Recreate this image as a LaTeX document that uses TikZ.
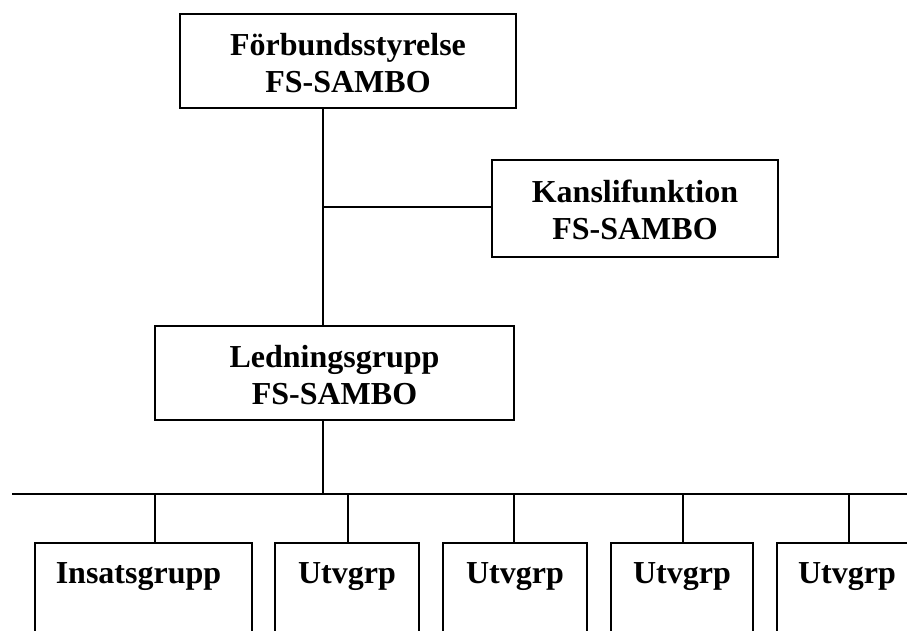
\documentclass[tikz,border=0pt]{standalone}
\usepackage{fontspec}
\setmainfont{Liberation Serif}
\usetikzlibrary{calc}
\begin{document}
\begin{tikzpicture}[x=1pt,y=-1pt,
  box/.style={draw, line width=2pt, rectangle, inner sep=0pt, outer sep=0pt, anchor=north west},
  lbl/.style={anchor=base, inner sep=0pt, font=\fontsize{32}{37}\selectfont\bfseries},
  conn/.style={line width=2pt}]
\useasboundingbox (0,0) rectangle (907,630);
\clip (0,0) rectangle (907,630);
% upper boxes
\node[box, minimum width=336, minimum height=94] (fs) at (180,14) {};
\node[lbl] (fs1) at ($(fs.north)+(0,41)$) {Förbundsstyrelse};
\node[lbl] (fs2) at ($(fs.north)+(0,78)$) {FS-SAMBO};
\node[box, minimum width=286, minimum height=97] (kf) at (492,160) {};
\node[lbl] (kf1) at ($(kf.north)+(0,42)$) {Kanslifunktion};
\node[lbl] (kf2) at ($(kf.north)+(0,79)$) {FS-SAMBO};
\node[box, minimum width=359, minimum height=94] (lg) at (155,326) {};
\node[lbl] (lg1) at ($(lg.north)+(0,41)$) {Ledningsgrupp};
\node[lbl] (lg2) at ($(lg.north)+(0,78)$) {FS-SAMBO};
% lower boxes
\node[box, minimum width=217, minimum height=130] (ins) at (35,543) {};
\node[box, minimum width=144, minimum height=130] (u1) at (275,543) {};
\node[box, minimum width=144, minimum height=130] (u2) at (443,543) {};
\node[box, minimum width=142, minimum height=130] (u3) at (611,543) {};
\node[box, minimum width=180, minimum height=130] (u4) at (777,543) {};
\node[lbl] (insT) at ($(ins.north)+(-5,40)$) {Insatsgrupp};
\foreach \n in {u1,u2,u3}{
  \node[lbl] (\n T) at ($(\n.north)+(0,40)$) {Utvgrp};
}
\node[lbl] (u4T) at ($(u4.north west)+(70,40)$) {Utvgrp};
% connectors
\coordinate (trunk) at (323,0);
\coordinate (kj) at (323,207);
\coordinate (busL) at (12,494);
\coordinate (busR) at (907,494);
\draw[conn] (fs.south -| trunk) -- (lg.north -| trunk);
\draw[conn] (kj) -- (kj -| kf.west);
\draw[conn] (lg.south -| trunk) -- (trunk |- busL);
\draw[conn] (busL) -- (busR);
\foreach \n/\x in {ins/155,u1/348,u2/514,u3/683,u4/849}{
  \coordinate (d\n) at (\x,494);
  \draw[conn] (d\n) -- (d\n |- \n.north);
}
\end{tikzpicture}
\end{document}
